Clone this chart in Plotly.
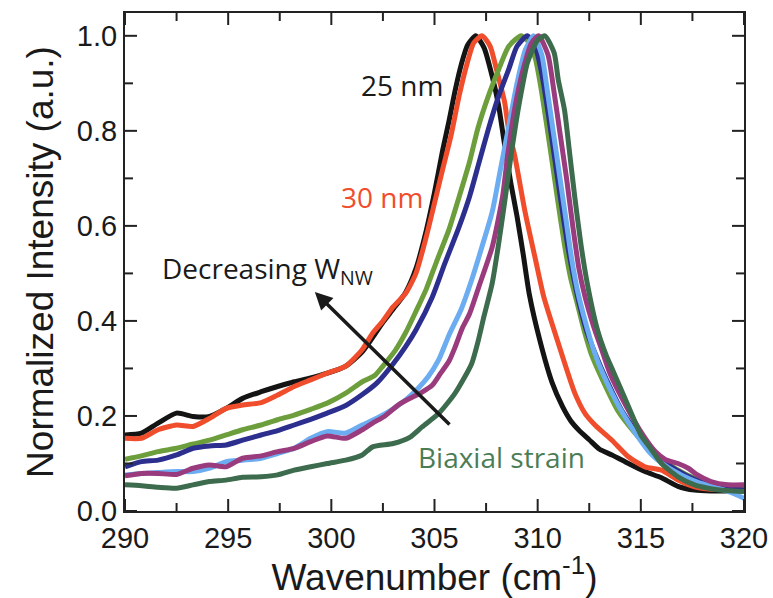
import plotly.graph_objects as go

# Raman spectra of nanowires (normalized), one series per sample
black_x = [290, 290.8, 291.6, 292.5, 293.3, 294.1, 294.9, 295.7, 296.6, 297.4, 298.2, 299.0, 299.8, 300.7, 301.5, 302.0, 302.5, 303.0, 303.6, 304.1, 304.6, 305.0, 305.4, 305.7, 306.0, 306.3, 306.6, 307.0, 307.4, 307.8, 308.1, 308.4, 308.7, 309.0, 309.3, 309.6, 310.1, 310.7, 311.2, 311.6, 312.0, 312.5, 313.0, 313.6, 314.4, 315.2, 316.0, 316.8, 317.6, 318.4, 319.2, 320.0]
black_y = [0.160, 0.164, 0.185, 0.206, 0.199, 0.199, 0.216, 0.237, 0.251, 0.262, 0.272, 0.280, 0.290, 0.305, 0.335, 0.365, 0.397, 0.425, 0.460, 0.510, 0.590, 0.670, 0.760, 0.820, 0.885, 0.940, 0.980, 1.000, 0.975, 0.914, 0.855, 0.770, 0.690, 0.620, 0.540, 0.455, 0.360, 0.270, 0.220, 0.190, 0.170, 0.150, 0.130, 0.118, 0.100, 0.083, 0.070, 0.052, 0.044, 0.042, 0.042, 0.042]

red_x = [290, 290.8, 291.6, 292.5, 293.3, 294.1, 294.9, 295.7, 296.6, 297.4, 298.2, 299.0, 299.8, 300.7, 301.5, 302.0, 302.5, 303.0, 303.6, 304.1, 304.6, 305.0, 305.4, 305.8, 306.2, 306.6, 306.9, 307.3, 307.7, 308.0, 308.4, 308.6, 308.9, 309.4, 309.9, 310.3, 311.0, 311.8, 312.3, 312.8, 313.6, 314.4, 315.2, 316.0, 316.8, 317.6, 318.4, 319.2, 320.0]
red_y = [0.153, 0.153, 0.171, 0.181, 0.178, 0.195, 0.216, 0.223, 0.228, 0.244, 0.262, 0.276, 0.290, 0.305, 0.340, 0.374, 0.400, 0.430, 0.458, 0.500, 0.577, 0.648, 0.720, 0.790, 0.875, 0.945, 0.985, 1.000, 0.978, 0.930, 0.860, 0.800, 0.745, 0.627, 0.528, 0.450, 0.353, 0.248, 0.205, 0.180, 0.149, 0.114, 0.093, 0.086, 0.065, 0.051, 0.046, 0.046, 0.046]

green_x = [290, 290.8, 291.6, 292.5, 293.3, 294.1, 294.9, 295.7, 296.6, 297.4, 298.2, 299.0, 299.8, 300.7, 301.5, 302.1, 302.5, 303.1, 303.6, 304.1, 304.6, 305.1, 305.7, 306.2, 306.7, 307.1, 307.6, 308.1, 308.6, 309.2, 309.6, 309.9, 310.15, 310.4, 310.65, 310.95, 311.3, 311.6, 311.9, 312.25, 312.6, 313.1, 313.9, 314.7, 315.5, 316.3, 317.1, 318.0, 318.7, 319.4, 320.0]
green_y = [0.109, 0.116, 0.125, 0.132, 0.141, 0.149, 0.160, 0.171, 0.181, 0.192, 0.202, 0.214, 0.227, 0.248, 0.272, 0.285, 0.305, 0.338, 0.375, 0.420, 0.467, 0.525, 0.592, 0.662, 0.735, 0.805, 0.872, 0.928, 0.978, 1.000, 0.985, 0.950, 0.893, 0.823, 0.750, 0.660, 0.560, 0.490, 0.440, 0.380, 0.330, 0.280, 0.210, 0.165, 0.128, 0.100, 0.079, 0.062, 0.051, 0.046, 0.044]

dblue_x = [290, 290.8, 291.6, 292.5, 293.3, 294.1, 294.9, 295.7, 296.6, 297.4, 298.2, 299.0, 299.8, 300.7, 301.5, 302.2, 303.0, 303.6, 304.1, 304.9, 305.5, 306.2, 306.7, 307.15, 307.6, 308.1, 308.6, 309.0, 309.5, 309.9, 310.2, 310.5, 310.8, 311.1, 311.45, 311.75, 312.05, 312.4, 312.8, 313.3, 314.1, 314.9, 315.7, 316.4, 317.2, 318.0, 318.8, 319.5, 320.0]
dblue_y = [0.093, 0.104, 0.107, 0.118, 0.132, 0.137, 0.139, 0.149, 0.160, 0.169, 0.181, 0.193, 0.206, 0.222, 0.245, 0.269, 0.310, 0.346, 0.381, 0.451, 0.521, 0.599, 0.662, 0.732, 0.802, 0.872, 0.930, 0.978, 1.000, 0.975, 0.920, 0.840, 0.750, 0.660, 0.560, 0.490, 0.430, 0.375, 0.330, 0.280, 0.210, 0.160, 0.120, 0.095, 0.075, 0.060, 0.050, 0.046, 0.044]

lblue_x = [290, 290.8, 291.6, 292.5, 293.3, 294.1, 294.9, 295.7, 296.6, 297.4, 298.2, 299.0, 299.8, 300.7, 301.5, 302.2, 303.0, 303.6, 304.2, 304.7, 305.2, 305.7, 306.3, 306.8, 307.3, 307.8, 308.2, 308.6, 309.0, 309.4, 309.8, 310.2, 310.45, 310.75, 311.05, 311.35, 311.65, 311.95, 312.3, 312.7, 313.2, 314.0, 314.8, 315.5, 316.2, 317.0, 317.8, 318.6, 319.3, 320.0]
lblue_y = [0.076, 0.079, 0.081, 0.083, 0.083, 0.090, 0.104, 0.107, 0.111, 0.121, 0.132, 0.153, 0.167, 0.164, 0.181, 0.195, 0.215, 0.234, 0.258, 0.283, 0.318, 0.370, 0.425, 0.486, 0.556, 0.630, 0.720, 0.810, 0.900, 0.970, 1.000, 0.960, 0.890, 0.800, 0.710, 0.620, 0.530, 0.460, 0.400, 0.340, 0.285, 0.215, 0.160, 0.120, 0.095, 0.075, 0.060, 0.050, 0.040, 0.027]

purple_x = [290, 290.8, 291.6, 292.5, 293.3, 294.1, 294.9, 295.7, 296.6, 297.4, 298.2, 299.0, 299.8, 300.7, 301.5, 302.0, 302.6, 303.3, 304.4, 304.9, 305.3, 305.7, 306.0, 306.35, 306.7, 307.15, 307.8, 308.3, 308.55, 308.9, 309.3, 309.7, 310.05, 310.5, 310.8, 311.1, 311.4, 311.7, 312.0, 312.3, 312.7, 313.1, 313.5, 314.3, 315.1, 315.7, 316.2, 316.8, 317.3, 317.7, 318.4, 319.2, 320.0]
purple_y = [0.074, 0.079, 0.079, 0.077, 0.090, 0.097, 0.093, 0.111, 0.116, 0.125, 0.132, 0.146, 0.158, 0.153, 0.171, 0.185, 0.200, 0.225, 0.250, 0.265, 0.290, 0.315, 0.345, 0.385, 0.415, 0.472, 0.556, 0.662, 0.750, 0.850, 0.930, 0.985, 1.000, 0.960, 0.880, 0.790, 0.700, 0.600, 0.510, 0.450, 0.390, 0.340, 0.290, 0.220, 0.160, 0.125, 0.108, 0.100, 0.090, 0.077, 0.062, 0.055, 0.055]

dgreen_x = [290, 290.8, 291.6, 292.5, 293.3, 294.1, 294.9, 295.7, 296.6, 297.4, 298.2, 299.0, 299.8, 300.7, 301.5, 302.0, 303.0, 303.8, 304.4, 305.2, 306.0, 306.8, 307.1, 307.4, 307.8, 308.1, 308.4, 308.7, 308.96, 309.2, 309.5, 309.98, 310.35, 310.8, 311.0, 311.3, 311.55, 311.8, 312.1, 312.4, 312.9, 313.3, 313.7, 314.4, 315.0, 315.5, 316.0, 316.8, 317.6, 318.4, 319.2, 320.0]
dgreen_y = [0.055, 0.053, 0.050, 0.048, 0.055, 0.062, 0.065, 0.071, 0.072, 0.076, 0.086, 0.093, 0.100, 0.107, 0.118, 0.135, 0.142, 0.155, 0.177, 0.205, 0.248, 0.310, 0.355, 0.410, 0.480, 0.560, 0.650, 0.745, 0.820, 0.880, 0.943, 0.990, 1.000, 0.964, 0.907, 0.844, 0.753, 0.660, 0.560, 0.480, 0.381, 0.330, 0.290, 0.220, 0.160, 0.130, 0.100, 0.072, 0.055, 0.047, 0.043, 0.041]

series = [
    (black_x, black_y, "#141414"),
    (red_x, red_y, "#ef4d2b"),
    (green_x, green_y, "#6c9e3c"),
    (dblue_x, dblue_y, "#2c2f8e"),
    (lblue_x, lblue_y, "#6cadf2"),
    (purple_x, purple_y, "#9a3b7e"),
    (dgreen_x, dgreen_y, "#3d6b4d"),
]

# Axis ranges and tick positions
x_range = [290, 320]
y_range = [0, 1.048]
x_major = [290, 295, 300, 305, 310, 315, 320]
x_minor = [292.5, 297.5, 302.5, 307.5, 312.5, 317.5]
y_major = [0.0, 0.2, 0.4, 0.6, 0.8, 1.0]
y_minor = [0.1, 0.3, 0.5, 0.7, 0.9]

# Arrow: tail and head in data coordinates
arrow_tail = [305.8, 0.179]
arrow_head = [299.2, 0.461]

W, H = 773, 598
margin = dict(l=125, r=29, t=13, b=87)
plot_w = W - margin["l"] - margin["r"]
plot_h = H - margin["t"] - margin["b"]
x_per_px = (x_range[1] - x_range[0]) / plot_w
y_per_px = (y_range[1] - y_range[0]) / plot_h

fig = go.Figure()
for xs, ys, col in series:
    fig.add_trace(go.Scatter(
        x=xs, y=ys, mode="lines",
        line=dict(color=col, width=5, shape="spline", smoothing=0.6),
        showlegend=False, hoverinfo="skip",
    ))

# Inward tick strokes on all four sides of the frame
tx, ty = [], []
for vals, length in ((x_major, 12), (x_minor, 8)):
    dy = length * y_per_px
    for v in vals:
        tx += [v, v, None, v, v, None]
        ty += [y_range[0], y_range[0] + dy, None, y_range[1], y_range[1] - dy, None]
for vals, length in ((y_major, 12), (y_minor, 8)):
    dx = length * x_per_px
    for v in vals:
        tx += [x_range[0], x_range[0] + dx, None, x_range[1], x_range[1] - dx, None]
        ty += [v, v, None, v, v, None]
fig.add_trace(go.Scatter(x=tx, y=ty, mode="lines", line=dict(color="#222222", width=2),
                         showlegend=False, hoverinfo="skip", cliponaxis=False))

label_font = "Open Sans"
fig.add_annotation(x=303.43, y=0.897, text="25 nm", showarrow=False,
                   font=dict(family=label_font, size=28, color="#1a1a1a"))
fig.add_annotation(x=302.46, y=0.661, text="30 nm", showarrow=False,
                   font=dict(family=label_font, size=28, color="#ef4d2b"))
fig.add_annotation(x=291.7, y=0.507, text="Decreasing W<sub>NW</sub>", showarrow=False,
                   xanchor="left",
                   font=dict(family=label_font, size=28, color="#1a1a1a"))
fig.add_annotation(x=308.23, y=0.114, text="Biaxial strain", showarrow=False,
                   font=dict(family=label_font, size=28, color="#4b7d55"))
fig.add_annotation(x=arrow_head[0], y=arrow_head[1], ax=arrow_tail[0], ay=arrow_tail[1],
                   xref="x", yref="y", axref="x", ayref="y", text="",
                   showarrow=True, arrowhead=2, arrowsize=1, arrowwidth=3.5,
                   arrowcolor="#1a1a1a")

tick_font = dict(family="Liberation Sans", size=29, color="#1a1a1a")
frame = dict(showline=True, linecolor="#222222", linewidth=2, mirror=True,
             ticks="", showgrid=False, zeroline=False)

fig.update_layout(
    template="none",
    width=W, height=H,
    margin=margin,
    paper_bgcolor="white", plot_bgcolor="white",
    xaxis=dict(
        range=x_range, tickvals=x_major, tickfont=tick_font,
        title=dict(text="Wavenumber (cm<sup>-1</sup>)", standoff=8,
                   font=dict(family="Liberation Sans", size=37, color="#1a1a1a")),
        **frame,
    ),
    yaxis=dict(
        range=y_range, tickvals=y_major, tickformat=".1f", tickfont=tick_font,
        title=dict(text="Normalized Intensity (a.u.)", standoff=12,
                   font=dict(family="Liberation Sans", size=37, color="#1a1a1a")),
        **frame,
    ),
)

fig.write_html("out.html")
